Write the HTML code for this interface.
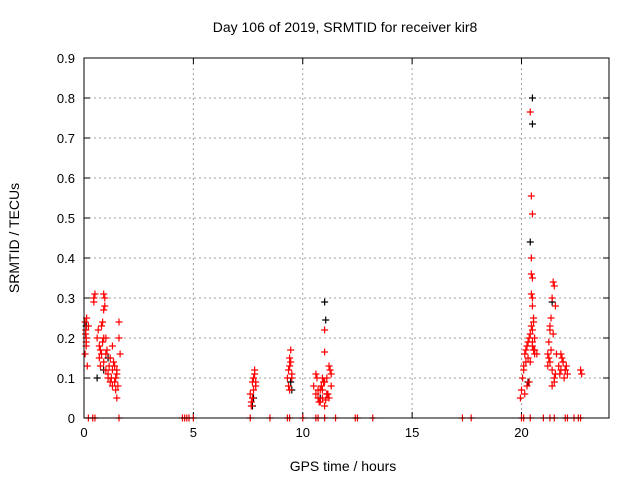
<!DOCTYPE html>
<html><head><meta charset="utf-8"><style>
body{margin:0;background:#fff}
svg{display:block;font-family:"Liberation Sans",sans-serif}
</style></head><body>
<svg id="chart" width="640" height="480">
<text x="345" y="32" text-anchor="middle" font-size="14">Day 106 of 2019, SRMTID for receiver kir8</text>
<text x="343" y="471" text-anchor="middle" font-size="14">GPS time / hours</text>
<text transform="translate(19,238) rotate(-90)" text-anchor="middle" font-size="14">SRMTID / TECUs</text>
<g id="grid"></g><g id="ticks"></g><g id="marks"></g>
<rect x="84" y="58" width="525" height="360" fill="none" stroke="#000" stroke-width="1"/>
</svg>
<script>
const xTicks=[0,5,10,15,20];
const yTicks=[0,0.1,0.2,0.3,0.4,0.5,0.6,0.7,0.8,0.9];
const blackT=[20.5,20.5,20.4,11.0,11.05,0.1,0.6,7.7,7.75,9.5,9.45,10.8,21.4,20.3,1.1,0.9];
const blackV=[0.80,0.735,0.44,0.29,0.245,0.23,0.1,0.03,0.05,0.07,0.09,0.05,0.29,0.09,0.15,0.12];
const redT=[0.05,0.08,0.1,0.12,0.05,0.1,0.15,0.1,0.2,0.07,0.45,0.5,0.45,0.6,0.65,0.7,0.75,0.8,0.85,0.9,0.95,0.9,0.95,0.7,0.75,0.8,0.85,0.9,1.0,1.05,1.1,1.15,1.2,1.0,1.1,1.25,1.3,1.35,1.4,1.45,1.5,1.55,1.3,1.4,1.5,1.6,1.6,1.65,1.2,1.3,1.45,1.5,0.9,1.0,
7.6,7.65,7.7,7.75,7.8,7.85,7.7,7.8,7.75,7.65,7.85,
9.3,9.35,9.4,9.45,9.5,9.4,9.35,9.45,9.5,9.4,
10.5,10.6,10.7,10.8,10.9,11.0,11.1,11.2,11.3,10.6,10.8,11.0,11.2,10.7,10.9,11.1,11.25,10.95,11.0,11.05,10.65,10.85,11.15,11.3,10.75,10.9,11.0,11.1,
19.95,20.0,20.05,20.1,20.15,20.2,20.25,20.3,20.35,20.4,20.45,20.5,20.55,20.6,20.1,20.2,20.3,20.4,20.5,20.45,20.5,20.45,20.5,20.45,20.4,20.5,20.45,20.5,20.5,20.55,20.6,20.35,20.25,20.15,20.55,20.6,20.7,
21.2,21.25,21.3,21.35,21.4,21.45,21.5,21.55,21.3,21.4,21.5,21.35,21.45,21.3,21.4,21.2,21.25,21.5,21.55,21.6,
21.7,21.75,21.8,21.85,21.9,21.95,22.0,22.05,22.1,21.8,21.9,22.0,22.7,22.75,
0.2,0.4,0.5,1.6,4.5,4.6,4.7,4.8,5.0,7.6,8.5,9.3,9.4,10.0,10.6,10.7,11.0,11.5,12.4,12.5,13.2,17.3,17.7,20.0,20.1,20.4,21.0,21.3,21.5,22.0,22.1,22.4,22.6,22.7];
const redV=[0.24,0.22,0.2,0.25,0.16,0.18,0.13,0.19,0.23,0.21,0.3,0.31,0.29,0.2,0.22,0.18,0.17,0.23,0.24,0.27,0.3,0.31,0.28,0.15,0.13,0.16,0.19,0.14,0.12,0.17,0.1,0.13,0.15,0.2,0.11,0.1,0.12,0.14,0.09,0.07,0.11,0.08,0.18,0.13,0.05,0.2,0.24,0.16,0.09,0.08,0.1,0.12,0.2,0.16,
0.06,0.04,0.09,0.1,0.11,0.08,0.05,0.12,0.07,0.03,0.09,
0.1,0.12,0.15,0.17,0.11,0.13,0.08,0.14,0.1,0.07,
0.08,0.06,0.05,0.07,0.1,0.09,0.06,0.05,0.08,0.11,0.04,0.22,0.13,0.07,0.05,0.1,0.12,0.09,0.165,0.045,0.1,0.08,0.06,0.11,0.04,0.07,0.03,0.06,
0.05,0.07,0.1,0.13,0.16,0.17,0.18,0.19,0.2,0.21,0.23,0.3,0.25,0.17,0.12,0.14,0.15,0.14,0.18,0.36,0.35,0.4,0.51,0.555,0.765,0.28,0.31,0.22,0.19,0.17,0.16,0.09,0.08,0.06,0.24,0.2,0.16,
0.16,0.19,0.22,0.25,0.3,0.34,0.33,0.28,0.14,0.12,0.1,0.17,0.21,0.23,0.08,0.13,0.15,0.09,0.11,0.16,
0.13,0.11,0.12,0.15,0.14,0.1,0.12,0.13,0.11,0.16,0.14,0.12,0.12,0.11,
0,0,0,0,0,0,0,0,0,0,0,0,0,0,0,0,0,0,0,0,0,0,0,0,0,0,0,0,0,0,0,0,0,0];
const X0=84,X1=609,Y0=418,Y1=58,XMAX=24,YMAX=0.9;
const sx=t=>X0+(X1-X0)*t/XMAX;
const sy=v=>Y0-(Y0-Y1)*v/YMAX;
const NS='http://www.w3.org/2000/svg';
const grid=document.getElementById('grid'),ticks=document.getElementById('ticks'),marks=document.getElementById('marks');
function mk(tag,attrs,parent){const e=document.createElementNS(NS,tag);for(const k in attrs)e.setAttribute(k,attrs[k]);parent.appendChild(e);return e;}
xTicks.forEach(t=>{
  const x=sx(t);
  if(t>0){const g=mk('line',{x1:x,x2:x,y1:Y1,y2:Y0,stroke:'#a0a0a0','stroke-dasharray':'2,3'},grid);
  
  }
  const tk=mk('path',{d:`M${x},${Y0}v-6M${x},${Y1}v6`,stroke:'#000'},ticks);
  
  
  const l=mk('text',{x:x,y:Y0+19,'text-anchor':'middle','font-size':13},ticks);l.textContent=t;
  
  
});
yTicks.forEach(v=>{
  const y=sy(v);
  if(v>0&&v<0.9){const g=mk('line',{x1:X0,x2:X1,y1:y,y2:y,stroke:'#a0a0a0','stroke-dasharray':'2,3'},grid);
  
  }
  const tk=mk('path',{d:`M${X0},${y}h6M${X1},${y}h-6`,stroke:'#000'},ticks);
  
  
  const l=mk('text',{x:X0-9,y:y+5,'text-anchor':'end','font-size':13},ticks);l.textContent=(v===0?'0':v.toFixed(1));
  
  
});
function plus(t,v,c,name){
  const x=sx(t),y=sy(v);
  const p=mk('path',{d:`M${x-3.5},${y}h7M${x},${y-3.5}v7`,stroke:c,'stroke-width':1.2},marks);
  
  
}
blackT.forEach((t,i)=>plus(t,blackV[i],'#000','black-point'));
redT.forEach((t,i)=>plus(t,redV[i],'#f00','red-point'));
</script>
</body></html>
